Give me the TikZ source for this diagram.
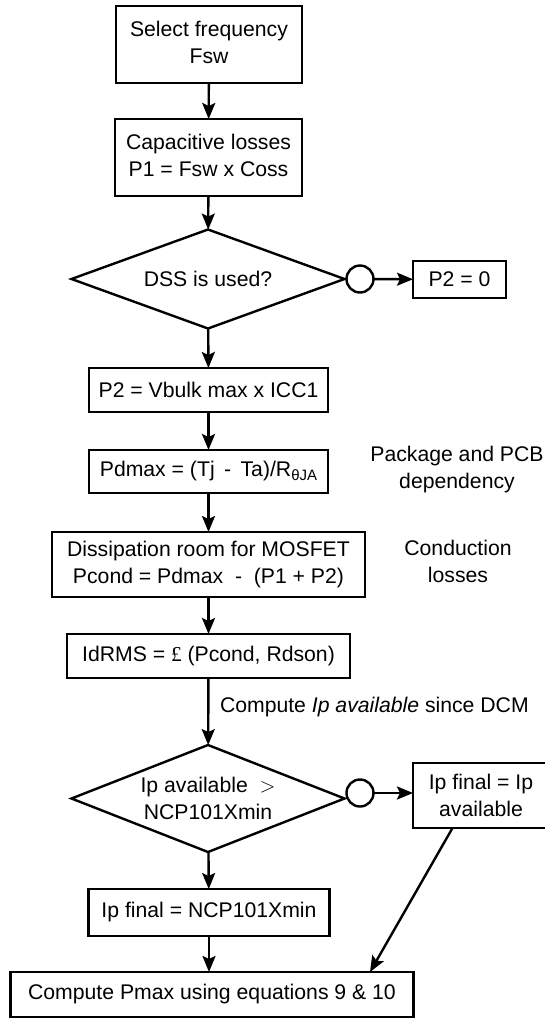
\documentclass[tikz,border=0pt]{standalone}
\usepackage{fontspec}
\setmainfont{Liberation Sans}
\newfontfamily\poundfont{Liberation Serif}
\usetikzlibrary{arrows.meta,shapes.geometric}

\tikzset{
    every node/.style={font=\fontsize{21.2}{26.6}\selectfont, align=center, inner sep=0pt, outer sep=0pt},
    procbox/.style={draw, line width=2.4pt, fill=white},
    decbox/.style={draw, line width=2.4pt, diamond, minimum width=273pt},
    joint/.style={draw, line width=2.4pt, circle, minimum size=27pt},
    flow/.style={line width=2.4pt, -{Stealth[length=16pt,width=13pt,inset=3pt]}}
}

\begin{document}
\begin{tikzpicture}[x=1pt,y=-1pt]
        \useasboundingbox (0,0) rectangle (545,1018);
        \clip (0,0) rectangle (545,1018);

        \node[procbox, minimum width=186pt, minimum height=77pt] at (209,44.5) (freq){Select frequency\\Fsw\par\vspace*{4pt}};
        \node[procbox, minimum width=187pt, minimum height=77pt] at (208.5,157.5) (caploss){Capacitive losses\\P1 = Fsw x Coss\par\vspace*{4pt}};
        \node[decbox, aspect=2.76, minimum height=99pt] at (208,279) (dss){DSS is used?};
        \node[joint] at (360,279) (circa){};
        \node[procbox, minimum width=93pt, minimum height=37pt] at (459.5,279.5) (ptwozero){P2 = 0};
        \node[procbox, minimum width=239pt, minimum height=44pt] at (208.5,390) (ptwo){P2 = Vbulk max x ICC1};
        \node[procbox, minimum width=239pt, minimum height=43pt] at (208.5,471.5) (pdmax){Pdmax = (Tj\ \,-\ \,Ta)/R\raisebox{-4pt}{\fontsize{15}{15}\selectfont θJA}};
        \node[procbox, minimum width=313pt, minimum height=65pt] at (208.5,564.5) (room){Dissipation room for MOSFET\\Pcond = Pdmax\ \ -\ \ (P1 + P2)};
        \node[procbox, minimum width=283pt, minimum height=44pt] at (208.5,656) (idrms){IdRMS = {\poundfont £} (Pcond, Rdson)};
        \node[decbox, aspect=2.55, minimum height=107pt] at (208,798.5) (ipav){Ip available\ \ $>$\\NCP101Xmin};
        \node[joint] at (360,793) (circb){};
        \node[procbox, minimum width=136pt, minimum height=65pt] at (481,795.5) (ipfinalb){Ip final = Ip\\available};
        \node[procbox, minimum width=241pt, minimum height=47pt] at (209,912.5) (ipfinala){Ip final = NCP101Xmin};
        \node[procbox, minimum width=403pt, minimum height=45pt] at (212,994.5) (pmax){Compute Pmax using equations 9 \& 10};

        \node at (457,469.5) (pkg){Package and PCB\\dependency};
        \node at (458,561.5) (cond){Conduction\\losses};
        \node[anchor=west] at (220,707) (comp){Compute \textit{Ip available} since DCM};

        \draw[flow] (freq) -- (caploss);
        \draw[flow] (caploss) -- (dss);
        \draw[flow] (dss) -- (ptwo);
        \draw[flow] (ptwo) -- (pdmax);
        \draw[flow] (pdmax) -- (room);
        \draw[flow] (room) -- (idrms);
        \draw[flow] (idrms) -- (ipav);
        \draw[flow] (ipav) -- (ipfinala);
        \draw[flow] (ipfinala) -- (ipfinala |- pmax.north);
        \draw[flow] (circa) -- (ptwozero);
        \draw[flow] (circb.east) -- (circb.east -| ipfinalb.west);
        \draw[flow] ([xshift=-28.5pt]ipfinalb.south) -- ([xshift=158pt]pmax.north);
    \end{tikzpicture}
\end{document}
